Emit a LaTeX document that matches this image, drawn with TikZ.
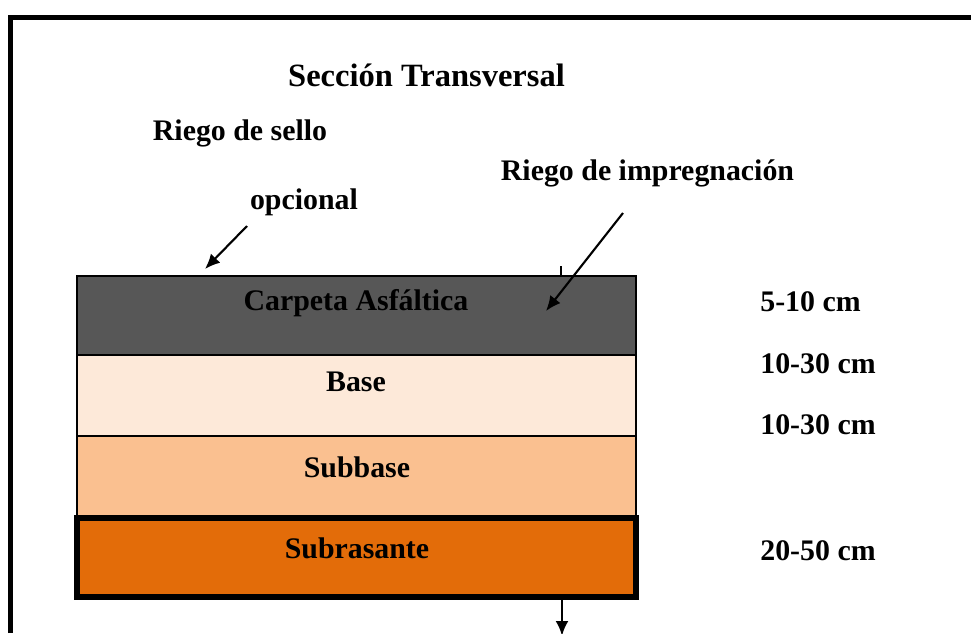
\documentclass[tikz,border=0pt]{standalone}
\usepackage{fontspec}
\setmainfont{Liberation Serif}
\usepackage{tikz}
\usetikzlibrary{arrows.meta}
\definecolor{asfalto}{HTML}{575757}
\definecolor{basecol}{HTML}{FDE9D9}
\definecolor{subbasecol}{HTML}{FAC090}
\definecolor{rasantecol}{HTML}{E36C09}
\tikzstyle{capa} = [rectangle, draw=black, line width=1.3pt, minimum width=11.18cm, inner sep=0pt]
\tikzstyle{txt} = [font=\bfseries\fontsize{17}{20}\selectfont, inner sep=0pt]
\tikzstyle{arrow} = [line width=1.2pt, -{Latex[length=3mm,width=2.6mm]}]

\begin{document}
\begin{tikzpicture}[x=0.02cm, y=-0.02cm]
        \useasboundingbox (0,0) rectangle (971,633);
        \draw [line width=2.85pt] (10.5,633) -- (10.5,17.5) -- (971,17.5);

        \node (titulo) [txt, font=\bfseries\fontsize{18.5}{22}\selectfont] at (426.5,75) {Sección Transversal};
        \node (sello) [txt] at (240,133) {Riego de sello};
        \node (opcional) [txt] at (304,202) {opcional};
        \node (impreg) [txt] at (647.5,173) {Riego de impregnación};

        \node (base) [capa, minimum height=1.62cm, fill=basecol] at (356.5,395.5) {};
        \node (subbase) [capa, minimum height=1.6cm, fill=subbasecol] at (356.5,476) {};
        \node (carpeta) [capa, minimum height=1.58cm, fill=asfalto] at (356.5,315.5) {};
        \node (subrasante) [capa, line width=3.4pt, minimum height=1.58cm, fill=rasantecol] at (356.5,557.5) {};

        \node (carpetat) [txt] at (356,303) {Carpeta Asfáltica};
        \node (baset) [txt] at (356,382) {Base};
        \node (subbaset) [txt] at (357,467) {Subbase};
        \node (subrasantet) [txt] at (357,548) {Subrasante};

        \node (e1) [txt, anchor=west] at (760,302) {5-10 cm};
        \node (e2) [txt, anchor=west] at (760,364) {10-30 cm};
        \node (e3) [txt, anchor=west] at (760,425) {10-30 cm};
        \node (e4) [txt, anchor=west] at (760,551) {20-50 cm};

        % flechas de los riegos
        \coordinate (selloini) at (247,226);
        \coordinate (sellofin) at (205,269);
        \coordinate (impregini) at (623,213);
        \coordinate (impregfin) at (546,311);
        \path [arrow, draw] (selloini) -- (sellofin);
        \path [arrow, draw] (impregini) -- (impregfin);

        \coordinate (marca) at (561,266);
        \draw [line width=1.3pt] (marca) -- (marca |- carpeta.north);
        \coordinate (abajo) at (562,636);
        \path [arrow, draw, line width=1.5pt] (abajo |- subrasante.south) -- (abajo);
\end{tikzpicture}
\end{document}
